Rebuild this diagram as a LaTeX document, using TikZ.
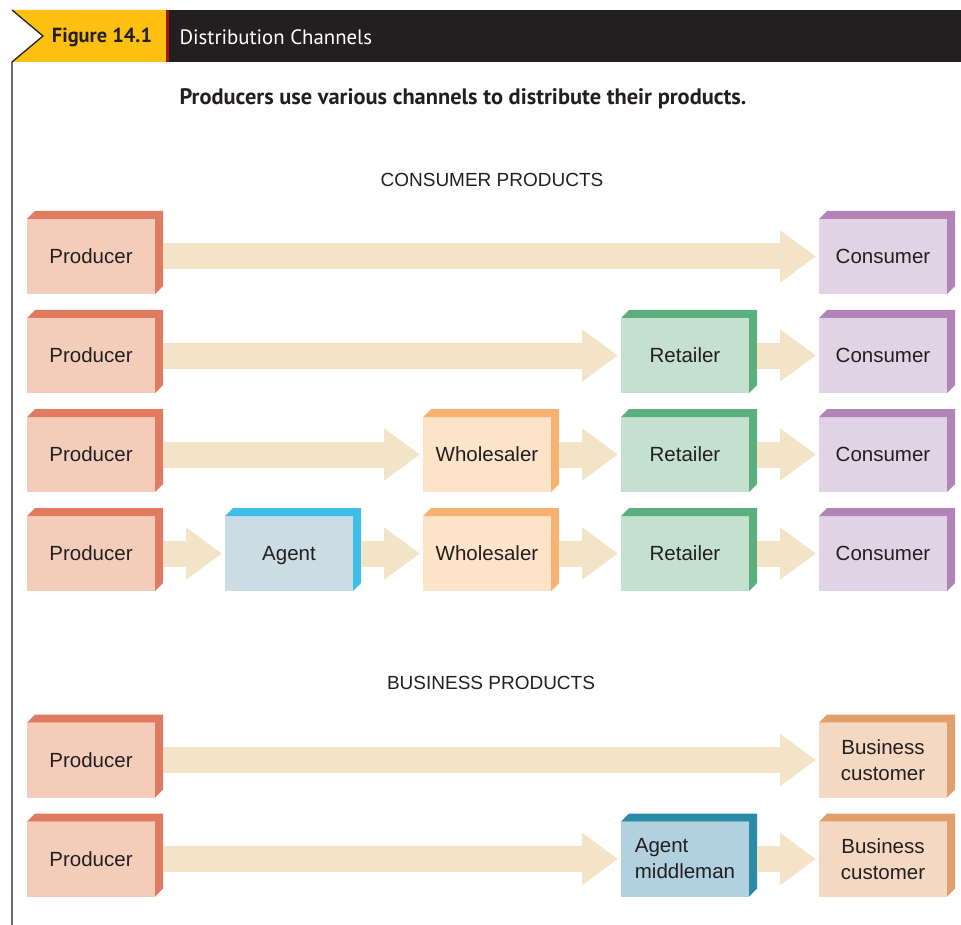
\documentclass[tikz,border=0pt]{standalone}
\usepackage{fontspec}
\setmainfont{Liberation Sans}
\newfontfamily\headfont{PT Sans}
\usetikzlibrary{arrows.meta, positioning}

\definecolor{ink}{HTML}{231F20}
\definecolor{flag}{HTML}{FDC010}
\definecolor{redline}{HTML}{A3161B}
\definecolor{flowc}{HTML}{F3E4C8}
\definecolor{prodfront}{HTML}{F3CDBA}
\definecolor{prodside}{HTML}{E07B60}
\definecolor{agentfront}{HTML}{CBDCE4}
\definecolor{agentside}{HTML}{3EBEE9}
\definecolor{wholefront}{HTML}{FDE3C8}
\definecolor{wholeside}{HTML}{F8B26F}
\definecolor{retailfront}{HTML}{C4E0CF}
\definecolor{retailside}{HTML}{5BAF7E}
\definecolor{consfront}{HTML}{E2D2E5}
\definecolor{consside}{HTML}{B084B6}
\definecolor{midfront}{HTML}{B1D0E0}
\definecolor{midside}{HTML}{2A8BA9}
\definecolor{busfront}{HTML}{F4D8C2}
\definecolor{busside}{HTML}{E0A06B}

\tikzset{
  box/.style={minimum width=128pt, minimum height=75pt, inner sep=0pt, outer sep=0pt,
    text=ink, font=\fontsize{20.5}{26}\selectfont},
  oneline/.style={box, text height=16pt, text depth=2pt},
  producer/.style={oneline, fill=prodfront},
  agent/.style={oneline, fill=agentfront},
  wholesaler/.style={oneline, fill=wholefront},
  retailer/.style={oneline, fill=retailfront},
  consumer/.style={oneline, fill=consfront},
  middleman/.style={box, fill=midfront, align=left},
  business/.style={box, fill=busfront, align=center},
  flow/.style={line width=26pt, draw=flowc, -{Triangle[length=36pt, width=50pt]}, shorten >=3pt},
  heading/.style={text=ink, font=\fontsize{19}{20}\selectfont},
}

% top and right faces of a block
\newcommand{\sides}[2]{%
  \fill[#2] (#1.north west) -- ++(8,-8) -- ([shift={(8,-8)}]#1.north east)
    -- ([shift={(8,-8)}]#1.south east) -- (#1.south east) -- (#1.north east) -- cycle;}

\begin{document}
\begin{tikzpicture}[x=1pt, y=-1pt]
\useasboundingbox (0,0) rectangle (961,925);

% title bar
\fill[ink] (167,10) rectangle (961,62);
\fill[flag] (12,10) -- (167,10) -- (167,62) -- (12,62) -- (43,36) -- cycle;
\fill[redline] (166,10) rectangle (168.5,62);
\draw[ink, line width=1.3pt] (12,10) -- (43,36) -- (12,62) -- (12,925);
\node[text=ink, font=\headfont\bfseries\fontsize{20.4}{22}\selectfont] (fig) at (102,37) {Figure 14.1};
\node[anchor=west, text=white, font=\headfont\fontsize{20.8}{22}\selectfont] (title) at (176,37) {Distribution Channels};
\node[anchor=west, text=ink, font=\headfont\bfseries\fontsize{22.4}{24}\selectfont] (sub) at (176,99)
  {Producers use various channels to distribute their products.};

\node[heading] (cons) at (492,180) {CONSUMER PRODUCTS};
\node[heading] (bus) at (491,683) {BUSINESS PRODUCTS};

% channel 1
\node[producer] (p1) at (91,256.5) {Producer};
\node[consumer] (c1) at (883,256.5) {Consumer};
% channel 2
\node[producer] (p2) at (91,355.5) {Producer};
\node[retailer] (r2) at (685,355.5) {Retailer};
\node[consumer] (c2) at (883,355.5) {Consumer};
% channel 3
\node[producer] (p3) at (91,454.5) {Producer};
\node[wholesaler] (w3) at (487,454.5) {Wholesaler};
\node[retailer] (r3) at (685,454.5) {Retailer};
\node[consumer] (c3) at (883,454.5) {Consumer};
% channel 4
\node[producer] (p4) at (91,553.5) {Producer};
\node[agent, right=70pt of p4] (a4) {Agent};
\node[wholesaler, right=70pt of a4] (w4) {Wholesaler};
\node[retailer, right=70pt of w4] (r4) {Retailer};
\node[consumer, right=70pt of r4] (c4) {Consumer};
% business channels
\node[producer] (p5) at (91,760) {Producer};
\node[business] (b5) at (883,760) {Business\\customer};
\node[producer] (p6) at (91,859) {Producer};
\node[middleman] (m6) at (685,859) {Agent\\middleman};
\node[business] (b6) at (883,859) {Business\\customer};

\foreach \n/\c in {p1/prodside, p2/prodside, p3/prodside, p4/prodside, p5/prodside, p6/prodside,
    a4/agentside, w3/wholeside, w4/wholeside, r2/retailside, r3/retailside, r4/retailside,
    c1/consside, c2/consside, c3/consside, c4/consside, m6/midside, b5/busside, b6/busside}
  \sides{\n}{\c};

\draw[flow] ([xshift=8pt]p1.east) -- (c1.west);
\draw[flow] ([xshift=8pt]p2.east) -- (r2.west);
\draw[flow] ([xshift=8pt]r2.east) -- (c2.west);
\draw[flow] ([xshift=8pt]p3.east) -- (w3.west);
\draw[flow] ([xshift=8pt]w3.east) -- (r3.west);
\draw[flow] ([xshift=8pt]r3.east) -- (c3.west);
\draw[flow] ([xshift=8pt]p4.east) -- (a4.west);
\draw[flow] ([xshift=8pt]a4.east) -- (w4.west);
\draw[flow] ([xshift=8pt]w4.east) -- (r4.west);
\draw[flow] ([xshift=8pt]r4.east) -- (c4.west);
\draw[flow] ([xshift=8pt]p5.east) -- (b5.west);
\draw[flow] ([xshift=8pt]p6.east) -- (m6.west);
\draw[flow] ([xshift=8pt]m6.east) -- (b6.west);
\end{tikzpicture}
\end{document}
